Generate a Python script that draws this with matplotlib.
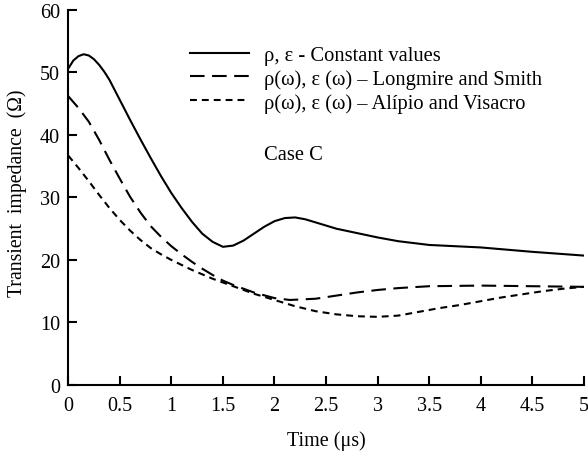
import matplotlib.pyplot as plt

plt.rcParams['font.family'] = ['Liberation Serif', 'DejaVu Serif']

# Transient impedance vs time, constant and frequency-dependent soil parameters
t_const = [0, 0.05, 0.1, 0.15, 0.2, 0.25, 0.3, 0.35, 0.4, 0.5, 0.6, 0.7, 0.8, 0.9,
           1.0, 1.1, 1.2, 1.3, 1.4, 1.5, 1.6, 1.7, 1.8, 1.9, 2.0, 2.1, 2.2, 2.3,
           2.4, 2.6, 2.8, 3.0, 3.2, 3.5, 4.0, 4.5, 5.0]
z_const = [50.6, 51.9, 52.6, 52.9, 52.7, 52.1, 51.2, 50.1, 48.8, 45.6, 42.4, 39.3,
           36.3, 33.4, 30.7, 28.3, 26.1, 24.2, 22.9, 22.1, 22.3, 23.1, 24.2, 25.3,
           26.2, 26.7, 26.8, 26.5, 26.0, 25.0, 24.3, 23.6, 23.0, 22.4, 22.0, 21.3,
           20.7]

t_longmire = [0, 0.1, 0.2, 0.3, 0.4, 0.5, 0.6, 0.7, 0.8, 0.9, 1.0, 1.1, 1.2, 1.3,
              1.4, 1.5, 1.6, 1.8, 2.0, 2.15, 2.4, 2.6, 2.8, 3.0, 3.2, 3.5, 4.0,
              4.5, 5.0]
z_longmire = [46.2, 44.3, 42.1, 39.2, 36.0, 33.0, 30.1, 27.6, 25.4, 23.7, 22.2,
              20.9, 19.7, 18.6, 17.6, 16.7, 16.0, 14.8, 13.9, 13.6, 13.8, 14.3,
              14.8, 15.2, 15.5, 15.8, 15.9, 15.8, 15.7]

t_alipio = [0, 0.1, 0.2, 0.3, 0.4, 0.5, 0.6, 0.7, 0.8, 0.9, 1.0, 1.1, 1.2, 1.3,
            1.4, 1.5, 1.6, 1.8, 2.0, 2.2, 2.4, 2.6, 2.8, 3.0, 3.2, 3.4, 3.6, 3.8,
            4.0, 4.2, 4.4, 4.6, 4.8, 5.0]
z_alipio = [36.7, 34.7, 32.6, 30.4, 28.3, 26.4, 24.7, 23.2, 21.9, 20.9, 20.0,
            19.2, 18.4, 17.7, 17.0, 16.4, 15.8, 14.6, 13.6, 12.6, 11.8, 11.3,
            11.0, 10.9, 11.1, 11.7, 12.3, 12.8, 13.4, 14.0, 14.5, 15.0, 15.4, 15.7]

labels = ['ρ, ε - Constant values',
          'ρ(ω), ε (ω) – Longmire and Smith',
          'ρ(ω), ε (ω) – Alípio and Visacro']

fig = plt.figure(figsize=(5.88, 4.52), dpi=100)
ax = fig.add_axes([0.116, 0.146, 0.877, 0.830])

lw = 1.5
ax.plot(t_const, z_const, color='black', lw=lw, label=labels[0])
ax.plot(t_longmire, z_longmire, color='black', lw=lw,
        linestyle=(0, (7.0, 3.6)), label=labels[1])
ax.plot(t_alipio, z_alipio, color='black', lw=lw,
        linestyle=(0, (3.3, 2.4)), label=labels[2])

ax.set_xlim(0, 5)
ax.set_ylim(0, 60)
ax.set_xticks([0, 0.5, 1, 1.5, 2, 2.5, 3, 3.5, 4, 4.5, 5])
ax.set_xticklabels(['0', '0.5', '1', '1.5', '2', '2.5', '3', '3.5', '4', '4.5', '5'])
ax.set_yticks(range(0, 61, 10))

for side in ['top', 'right']:
    ax.spines[side].set_visible(False)
for side in ['left', 'bottom']:
    ax.spines[side].set_linewidth(1.5)
ax.tick_params(direction='in', length=6.5, width=1.5, labelsize=14.5)
ax.tick_params(axis='x', pad=8)
ax.tick_params(axis='y', pad=6)

ax.set_xlabel('Time (μs)', fontsize=14.5, labelpad=11)
ax.set_ylabel('Transient  impedance  (Ω)', fontsize=14.2, labelpad=9)
ax.yaxis.label.set_y(0.515)

ax.legend(loc='upper left', bbox_to_anchor=(0.22, 0.927), frameon=False,
          fontsize=14.8, handlelength=2.9, handletextpad=0.73, labelspacing=0.2,
          borderaxespad=0)
ax.text(0.38, 0.615, 'Case C', transform=ax.transAxes, fontsize=14.8,
        ha='left', va='center')

fig.savefig('out.png', dpi=100)
